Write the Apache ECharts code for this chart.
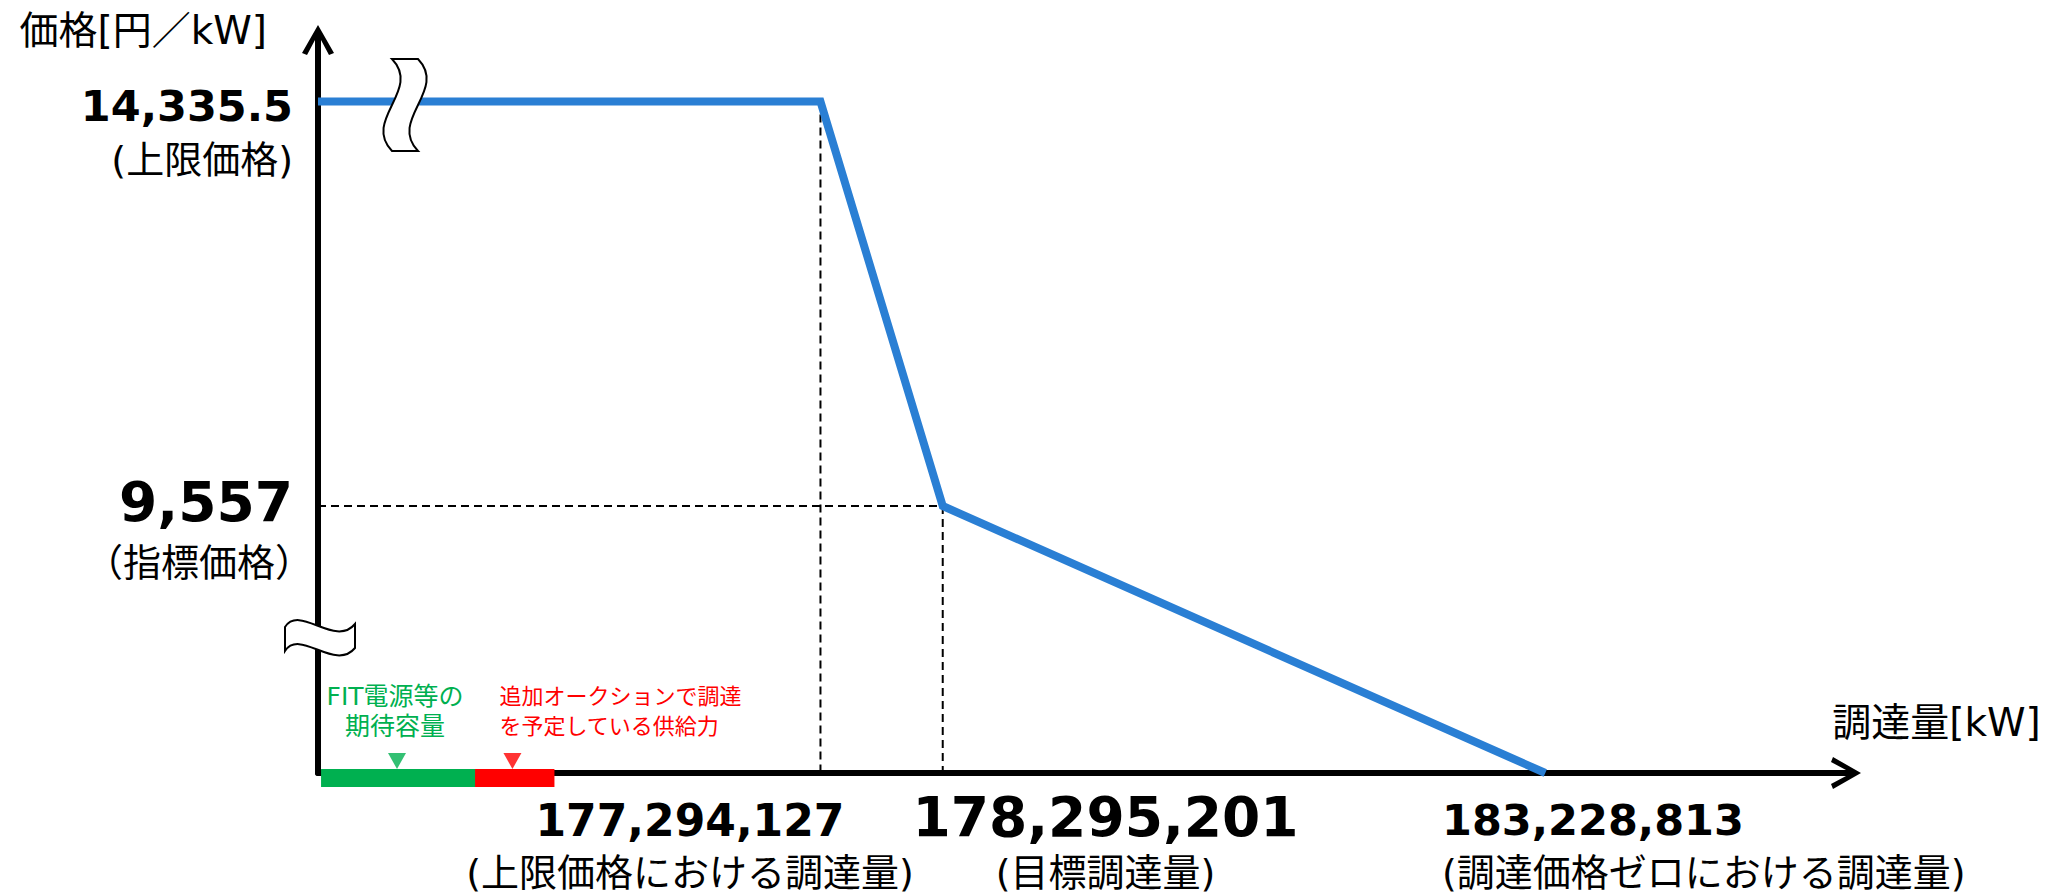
<!DOCTYPE html>
<html>
<head>
<meta charset="utf-8">
<script src="https://cdn.jsdelivr.net/npm/echarts@6.0.0/dist/echarts.min.js"></script>
<style>
html,body{margin:0;padding:0;background:#fff;}
#chart{width:2067px;height:896px;}
</style>
</head>
<body>
<div id="chart"></div>
<script>
// ---------------- data ----------------
const SUPPLY_X = [177294127, 178295201, 183228813];      // 調達量 [kW]
const PRICE_Y = [14335.5, 9557, 0];                       // 価格 [円/kW]
const X_TICK_VALUES = [177294127, 178295201, 183228813];
const X_TICK_NAMES = ['(上限価格における調達量)', '(目標調達量)', '(調達価格ゼロにおける調達量)'];
const Y_TICK_VALUES = [14335.5, 9557];
const Y_TICK_NAMES = ['(上限価格)', '（指標価格）'];
const FIT_RANGE = [173205000, 174629000];                 // FIT電源等の期待容量 (schematic)
const AUCTION_RANGE = [174466000, 175116000];             // 追加オークション分 (schematic)
const MARKER_X = [173827000, 174772000];
const MARKER_TEXT = ['FIT電源等の\n期待容量', '追加オークションで調達\nを予定している供給力'];
const X_NAME = '調達量[kW]';
const Y_NAME = '価格[円／kW]';

// axis extents (schematic, broken axes)
const X_MIN = 173180000, X_MAX = 185691000;
const Y_MIN = 0, Y_MAX = 15062;
const Y_BREAK = [1654, 8057];

// ---------------- styles ----------------
const BLUE = '#2A7FD4', GREEN = '#00B050', RED = '#FF0000';
const NUM_FONT = "'DejaVu Sans', 'Noto Sans CJK JP', sans-serif";
const JP_FONT = "'DejaVu Sans', 'Noto Sans CJK JP', sans-serif";
const ARROW = 'path://M16,0 L32,28 L27,30 L19,15 L19,30 L13,30 L13,15 L5,30 L0,28 Z';
const TOP_MARK = 'M-13,-46 C17,-15 -43,15 -13,46 L13,46 C-17,15 43,-15 13,-46 Z';
const SIDE_MARK = 'M-35,-9 C-20,-32 15,12 35,-12 L35,12 C15,36 -20,-8 -35,15 Z';
const fmt = v => v.toLocaleString('en-US');

// ---------------- label items ----------------
const labelItems = [];
const Y_LABEL_LAYOUT = [
  { dx: -25, numPad: 0, dy: 31.5, size: 43, lh: 54 },
  { dx: -5, numPad: 20, dy: 26.5, size: 55, lh: 61 }
];
Y_TICK_VALUES.forEach((v, i) => {
  const L = Y_LABEL_LAYOUT[i];
  labelItems.push({
    value: [X_MIN, v],
    label: {
      show: true, position: 'inside', align: 'right', verticalAlign: 'middle',
      offset: [L.dx, L.dy], color: '#000', opacity: 1,
      formatter: '{n|' + fmt(v) + '}\n{d|' + Y_TICK_NAMES[i] + '}',
      rich: {
        n: { fontFamily: NUM_FONT, fontWeight: 'bold', fontSize: L.size, lineHeight: L.lh, color: '#000', align: 'right', padding: [0, L.numPad, 0, 0] },
        d: { fontFamily: JP_FONT, fontSize: 38, lineHeight: L.lh, color: '#000', align: 'right' }
      }
    }
  });
});
const X_LABEL_LAYOUT = [
  { align: 'center', dx: -130.5, dy: 20.5, size: 44, lh: 53 },
  { align: 'center', dx: 162.8, dy: 16, size: 55, lh: 56 },
  { align: 'left', dx: -103.3, dy: 20.5, size: 43, lh: 53 }
];
X_TICK_VALUES.forEach((v, i) => {
  const L = X_LABEL_LAYOUT[i];
  labelItems.push({
    value: [v, 0],
    label: {
      show: true, position: 'inside', align: L.align, verticalAlign: 'top',
      offset: [L.dx, L.dy], color: '#000', opacity: 1,
      formatter: '{n|' + fmt(v) + '}\n{d|' + X_TICK_NAMES[i] + '}',
      rich: {
        n: { fontFamily: NUM_FONT, fontWeight: 'bold', fontSize: L.size, lineHeight: L.lh, color: '#000', align: L.align },
        d: { fontFamily: JP_FONT, fontSize: 38, lineHeight: L.lh, color: '#000', align: L.align }
      }
    }
  });
});
const MARKER_LAYOUT = [
  { align: 'center', dx: -2, size: 25, color: GREEN },
  { align: 'left', dx: -13, size: 22, color: RED }
];
MARKER_X.forEach((x, i) => {
  const L = MARKER_LAYOUT[i];
  labelItems.push({
    value: [x, 0],
    label: {
      show: true, position: 'inside', align: L.align, verticalAlign: 'middle',
      offset: [L.dx, -62], formatter: MARKER_TEXT[i], opacity: 1,
      fontFamily: JP_FONT, fontSize: L.size, lineHeight: 30, color: L.color
    }
  });
});
// x-axis title, placed beyond the end of the axis
labelItems.push({
  value: [X_MAX, 0],
  label: {
    show: true, position: 'inside', align: 'center', verticalAlign: 'middle',
    offset: [90.5, -51], formatter: X_NAME, opacity: 1,
    fontFamily: JP_FONT, fontSize: 39, color: '#000'
  }
});

// ---------------- chart ----------------
const chart = echarts.init(document.getElementById('chart'), null, { renderer: 'svg' });
const dashed = { color: '#000', width: 2, type: [8, 5] };
const option = {
  animation: false,
  backgroundColor: '#fff',
  textStyle: { color: '#000' },
  grid: { left: 318, right: 2067 - 1846, top: 40, bottom: 896 - 773, containLabel: false, outerBoundsMode: 'none' },
  xAxis: {
    type: 'value', min: X_MIN, max: X_MAX,
    axisLine: { show: true, onZero: false, symbol: ['none', ARROW], symbolSize: [32, 30], lineStyle: { color: '#000', width: 6 } },
    axisTick: { show: false }, axisLabel: { show: false }, splitLine: { show: false }
  },
  yAxis: {
    type: 'value', min: Y_MIN, max: Y_MAX,
    breaks: [{ start: Y_BREAK[0], end: Y_BREAK[1], gap: 0 }],
    breakArea: { show: false },
    name: Y_NAME, nameLocation: 'end', nameGap: 10,
    nameTextStyle: { fontFamily: JP_FONT, fontSize: 39, color: '#000', align: 'right', verticalAlign: 'middle', padding: [0, 51, 0, 0] },
    axisLine: { show: true, onZero: false, symbol: ['none', ARROW], symbolSize: [32, 30], lineStyle: { color: '#000', width: 6 } },
    axisTick: { show: false }, axisLabel: { show: false }, splitLine: { show: false }
  },
  series: [
    { type: 'line', z: 2, clip: false, symbol: 'none', silent: true, lineStyle: dashed,
      data: [[X_MIN, PRICE_Y[1]], [SUPPLY_X[1], PRICE_Y[1]]] },
    { type: 'line', z: 2, clip: false, symbol: 'none', silent: true, lineStyle: dashed,
      data: [[SUPPLY_X[0], PRICE_Y[0]], [SUPPLY_X[0], 0]] },
    { type: 'line', z: 2, clip: false, symbol: 'none', silent: true, lineStyle: dashed,
      data: [[SUPPLY_X[1], PRICE_Y[1]], [SUPPLY_X[1], 0]] },
    { type: 'line', name: '価格', z: 3, clip: false, symbol: 'none', silent: true,
      lineStyle: { color: BLUE, width: 8, join: 'miter', cap: 'butt' },
      data: [[X_MIN, PRICE_Y[0]]].concat(SUPPLY_X.map((x, i) => [x, PRICE_Y[i]])) },
    { type: 'custom', z: 5, clip: false, silent: true,
      data: [[FIT_RANGE[0], 0, FIT_RANGE[1], 0], [AUCTION_RANGE[0], 0, AUCTION_RANGE[1], 1]],
      renderItem: function (params, api) {
        const a = api.coord([api.value(0), 0]);
        const b = api.coord([api.value(2), 0]);
        return { type: 'rect', shape: { x: a[0], y: a[1] - 4, width: b[0] - a[0], height: 18 },
          style: { fill: api.value(3) === 0 ? GREEN : RED } };
      } },
    { type: 'scatter', z: 5, clip: false, silent: true, symbol: 'triangle', symbolRotate: 180,
      symbolSize: [18, 16], symbolOffset: [0, -12],
      data: MARKER_X.map((x, i) => ({ value: [x, 0], itemStyle: { color: i === 0 ? GREEN : RED } })) },
    { type: 'custom', z: 8, clip: false, silent: true,
      data: [[X_MIN, PRICE_Y[0], 0], [X_MIN, Y_BREAK[1], 1]],
      renderItem: function (params, api) {
        const p = api.coord([api.value(0), api.value(1)]);
        const top = api.value(2) === 0;
        return { type: 'path', x: p[0] + (top ? 87 : 2), y: p[1] + (top ? 3.5 : 3),
          shape: { pathData: top ? TOP_MARK : SIDE_MARK },
          style: { fill: '#fff', stroke: '#000', lineWidth: 2 } };
      } },
    { type: 'scatter', z: 6, clip: false, silent: true, symbolSize: 1,
      itemStyle: { color: 'rgba(0,0,0,0)' }, data: labelItems }
  ]
};
chart.setOption(option);
</script>
</body>
</html>
